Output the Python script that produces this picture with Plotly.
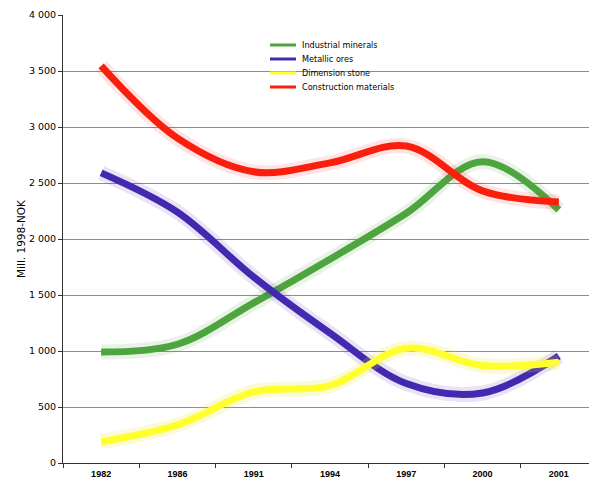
import plotly.graph_objects as go

years = ["1982", "1986", "1991", "1994", "1997", "2000", "2001"]
industrial_minerals = [990, 1060, 1430, 1820, 2230, 2690, 2260]
metallic_ores = [2590, 2240, 1660, 1160, 710, 625, 955]
dimension_stone = [190, 340, 635, 690, 1025, 870, 900]
construction_materials = [3545, 2900, 2600, 2680, 2830, 2430, 2330]

names = ["Industrial minerals", "Metallic ores", "Dimension stone", "Construction materials"]
values = [industrial_minerals, metallic_ores, dimension_stone, construction_materials]
colors = ["#4ea53f", "#4328b0", "#ffff2e", "#fa1e0e"]
halo = ["rgba(78,165,63,0.13)", "rgba(64,37,176,0.12)", "rgba(230,230,40,0.18)", "rgba(250,30,14,0.12)"]

fig = go.Figure()
for name, vals, col, hc in zip(names, values, colors, halo):
    fig.add_trace(go.Scatter(
        x=years, y=vals, mode="lines", showlegend=False, hoverinfo="skip",
        line=dict(color=hc, width=15, shape="spline", smoothing=1.0),
    ))
    fig.add_trace(go.Scatter(
        x=years, y=vals, name=name, mode="lines", showlegend=False,
        line=dict(color=col, width=7, shape="spline", smoothing=1.0),
    ))

# page body has an 8px margin: figure origin sits at (8, 8) in the window
off = 8
plot_l, plot_t, plot_w, plot_h = 63, 15, 534, 448
for i, (name, col) in enumerate(zip(names, colors)):
    ypx = 45 + 14 * i
    yp = 1 - (ypx - plot_t) / plot_h
    x0 = (270 - plot_l) / plot_w
    x1 = (296 - plot_l) / plot_w
    fig.add_shape(type="line", xref="paper", yref="paper", x0=x0, x1=x1, y0=yp, y1=yp,
                  line=dict(color=col, width=3))
    fig.add_annotation(xref="paper", yref="paper", x=(300 - plot_l) / plot_w, y=yp,
                       xanchor="left", yanchor="middle", text=name, showarrow=False,
                       font=dict(size=9, family="DejaVu Sans Condensed, DejaVu Sans", color="black"))

fig.update_layout(
    width=597 - off, height=483 - off,
    margin=dict(l=plot_l - off, r=0, t=plot_t - off, b=483 - plot_t - plot_h),
    paper_bgcolor="white", plot_bgcolor="white",
    font=dict(family="DejaVu Sans, Verdana, sans-serif", color="black"),
    showlegend=False,
)
fig.update_xaxes(
    type="category", range=[-0.5, 6.5], automargin=False,
    showline=True, linecolor="#333", linewidth=1,
    ticks="outside", tickson="boundaries", ticklen=4, tickcolor="#333",
    showgrid=False,
    tickfont=dict(size=9, family="Liberation Sans", color="black", weight="bold"),
    ticklabelstandoff=2,
)
fig.update_yaxes(
    range=[0, 4000], tickvals=[0, 500, 1000, 1500, 2000, 2500, 3000, 3500, 4000],
    ticktext=["0", "500", "1 000", "1 500", "2 000", "2 500", "3 000", "3 500", "4 000"],
    automargin=False,
    showline=True, linecolor="#333", linewidth=1,
    ticks="outside", ticklen=4, tickcolor="#333",
    showgrid=True, gridcolor="#8c8c8c", gridwidth=1,
    zeroline=False,
    tickfont=dict(size=9.5, family="DejaVu Sans", color="black"),
    title=dict(text="Mill. 1998-NOK", font=dict(size=10.5, family="DejaVu Sans"), standoff=1),
)

fig.write_html("out.html")
